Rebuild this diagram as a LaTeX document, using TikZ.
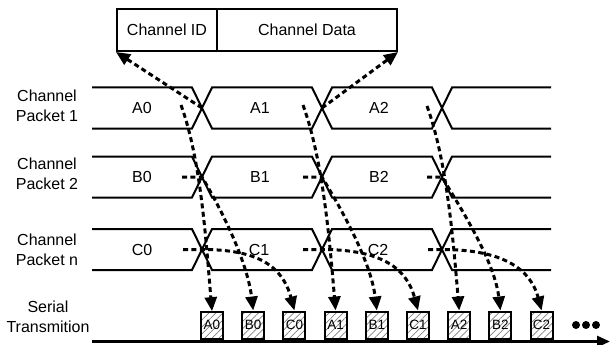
\documentclass[tikz,border=0pt]{standalone}
\usepackage{fontspec}
\setmainfont{Liberation Sans}
\usetikzlibrary{arrows.meta,patterns.meta}

\tikzset{
  bus/.style={line width=2pt},
  flow/.style={draw, line width=3pt, dash pattern=on 5pt off 3.4pt,
    -{Triangle[length=14pt,width=12pt]}},
  slot/.style={draw, line width=2pt, minimum width=22pt, minimum height=27pt,
    inner sep=0pt, pattern={Lines[angle=45,distance=5pt,line width=0.7pt]},
    pattern color=gray, font=\fontsize{13.5}{13.5}\selectfont},
}

\begin{document}
\begin{tikzpicture}[x=1pt,y=-1pt]
  \useasboundingbox (0,0) rectangle (611,345);

  % packet header
  \begin{scope}[every node/.style={draw,line width=2pt,minimum height=42pt,inner sep=0pt,font=\fontsize{16}{16}\selectfont}]
    \node[minimum width=100pt] (chid)   at (167,30) {Channel ID};
    \node[minimum width=180pt] (chdata) at (307,30) {Channel Data};
  \end{scope}

  % row labels
  \begin{scope}[every node/.style={align=center,font=\fontsize{16}{20}\selectfont}]
    \node (row1)   at (47,106) {Channel\\Packet 1};
    \node (row2)   at (47,174) {Channel\\Packet 2};
    \node (row3)   at (47,250) {Channel\\Packet n};
    \node (serial) at (48,317) {Serial\\Transmition};
  \end{scope}

  % bus lines
  \foreach \r/\yc in {1/108,2/177,3/249.5} {
    \draw[bus] (92,\yc-20.5) -- (192,\yc-20.5) -- (212,\yc+20.5) -- (312,\yc+20.5)
      -- (332,\yc-20.5) -- (432,\yc-20.5) -- (452,\yc+20.5) -- (551,\yc+20.5);
    \draw[bus] (92,\yc+20.5) -- (192,\yc+20.5) -- (212,\yc-20.5) -- (312,\yc-20.5)
      -- (332,\yc+20.5) -- (432,\yc+20.5) -- (452,\yc-20.5) -- (551,\yc-20.5);
    \foreach \k/\xc in {1/202,2/322,3/442}
      \coordinate (p\r x\k) at (\xc,\yc);
  }

  % packet contents
  \begin{scope}[every node/.style={font=\fontsize{16}{16}\selectfont}]
    \node (a0) at (142,108) {A0};
    \node (a1) at (260,108) {A1};
    \node (a2) at (379,108) {A2};
    \node (b0) at (142,177) {B0};
    \node (b1) at (260,177) {B1};
    \node (b2) at (379,177) {B2};
    \node (c0) at (142,249.5) {C0};
    \node (c1) at (259,249.5) {C1};
    \node (c2) at (378,249.5) {C2};
  \end{scope}

  % serial slots
  \coordinate (t0) at (92,341.5);
  \coordinate (t1) at (610,341.5);
  \draw[line width=2.7pt,-{Triangle[length=13pt,width=11pt]}] (t0) -- (t1);
  \foreach \n [count=\i from 0] in {A0,B0,C0,A1,B1,C1,A2,B2,C2}
    \node[slot] (s\n) at (212+41.2*\i,325) {\n};
  \foreach \d in {0,1,2}
    \fill (576+10*\d,325) circle (4pt);

  % start points
  \coordinate (a0s) at (181,105);
  \coordinate (a1s) at (303,105);
  \coordinate (a2s) at (427,106);
  \coordinate (b0s) at (182,177);
  \coordinate (b1s) at (303,177);
  \coordinate (b2s) at (427,177);
  \coordinate (c0s) at (183,249.5);
  \coordinate (c1s) at (303,249.5);
  \coordinate (c2s) at (428,249.5);

  \path (p1x1) edge[flow] (chid.south west);
  \path (p1x2) edge[flow] (chdata.south east);

  \draw[flow] (a0s) .. controls +(20,55) and +(-6,-70) .. (sA0.north);
  \draw[flow] (a1s) .. controls +(20,55) and +(-6,-70) .. (sA1.north);
  \draw[flow] (a2s) .. controls +(20,55) and +(-6,-70) .. (sA2.north);

  \draw[flow] (b0s) -- (p2x1) .. controls +(18,30) and +(-6,-50) .. (sB0.north);
  \draw[flow] (b1s) -- (p2x2) .. controls +(18,30) and +(-6,-50) .. (sB1.north);
  \draw[flow] (b2s) -- (p2x3) .. controls +(18,30) and +(-6,-50) .. (sB2.north);

  \draw[flow] (c0s) -- (p3x1) .. controls +(55,0) and +(-12,-45) .. (sC0.north);
  \draw[flow] (c1s) -- (p3x2) .. controls +(55,0) and +(-12,-45) .. (sC1.north);
  \draw[flow] (c2s) -- (p3x3) .. controls +(55,0) and +(-12,-45) .. (sC2.north);
\end{tikzpicture}
\end{document}
